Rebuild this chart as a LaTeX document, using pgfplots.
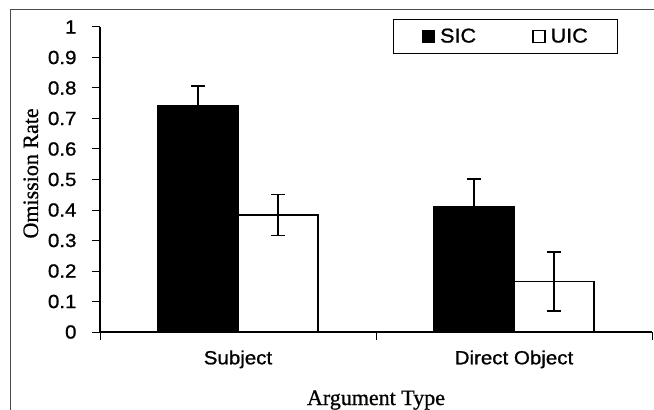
\documentclass[border=0pt]{standalone}
\usepackage{fontspec}
\setmainfont{Liberation Serif}[FakeBold=0.8]
\newfontfamily\arial[FakeStretch=1.08, FakeBold=1]{Liberation Sans}
\usepackage{pgfplots}
\pgfplotsset{compat=1.18}
\usepackage{pgfplotstable}

\pgfplotstableread{
x    y      e
0.5  0.742  0.065
1.5  0.411  0.091
}\sic
\pgfplotstableread{
x    y      e
0.5  0.384  0.067
1.5  0.165  0.097
}\uic

\begin{document}
\begin{tikzpicture}
\useasboundingbox (0,0) rectangle (654pt,410pt);
% scanned page frame
\draw[line width=1pt, black!70] (10pt,0pt) -- (10pt,400pt) -- (654pt,400pt);
\begin{axis}[
  at={(100pt,78pt)}, anchor=south west,
  scale only axis, width=552pt, height=305pt,
  xmin=0, xmax=2, ymin=0, ymax=1,
  axis x line*=bottom, axis y line*=left,
  axis line style={line width=1.2pt},
  tick align=outside, major tick length=8pt,
  tick style={line width=1pt, black},
  ytick={0,0.1,0.2,0.3,0.4,0.5,0.6,0.7,0.8,0.9,1},
  xtick={0,1,2}, xticklabels={},
  extra x ticks={0.5,1.5},
  extra x tick labels={Subject, Direct Object},
  extra x tick style={major tick length=0pt},
  /pgf/number format/assume math mode=true,
  tick label style={font=\arial\fontsize{19}{20}\selectfont},
  xticklabel style={yshift=-15pt},
  yticklabel style={xshift=-12pt},
  xlabel={Argument Type},
  ylabel={Omission Rate},
  label style={font=\fontsize{22}{24}\selectfont},
  xlabel style={at={(axis description cs:0.5,0)}, anchor=base, yshift=-73pt},
  ylabel style={at={([xshift=-62pt]axis description cs:0,0.52)}, anchor=base},
  ybar=0pt, bar width=80pt,
  legend columns=2,
  legend style={at={(axis description cs:0.531,1.026)}, anchor=north west,
    draw=black, line width=1pt, font=\arial\fontsize{20}{21}\selectfont,
    inner xsep=28pt, inner ysep=7pt,
    /tikz/every odd column/.append style={column sep=3pt},
    /tikz/every even column/.append style={column sep=54pt}},
  legend image code/.code={\draw[#1, line width=1.5pt] (0pt,-6pt) rectangle (12pt,6pt);},
  error bars/error bar style={line width=1.6pt, black},
  error bars/error mark options={rotate=90, line width=1.6pt, black, mark size=7pt},
]
\addplot[fill=black, draw=black, line width=1.2pt,
  error bars/.cd, y dir=both, y explicit]
  table[x=x, y=y, y error=e] {\sic};
\addplot[fill=white, draw=black, line width=1.5pt,
  error bars/.cd, y dir=both, y explicit]
  table[x=x, y=y, y error=e] {\uic};
\legend{SIC, UIC}
\end{axis}
\end{tikzpicture}
\end{document}
